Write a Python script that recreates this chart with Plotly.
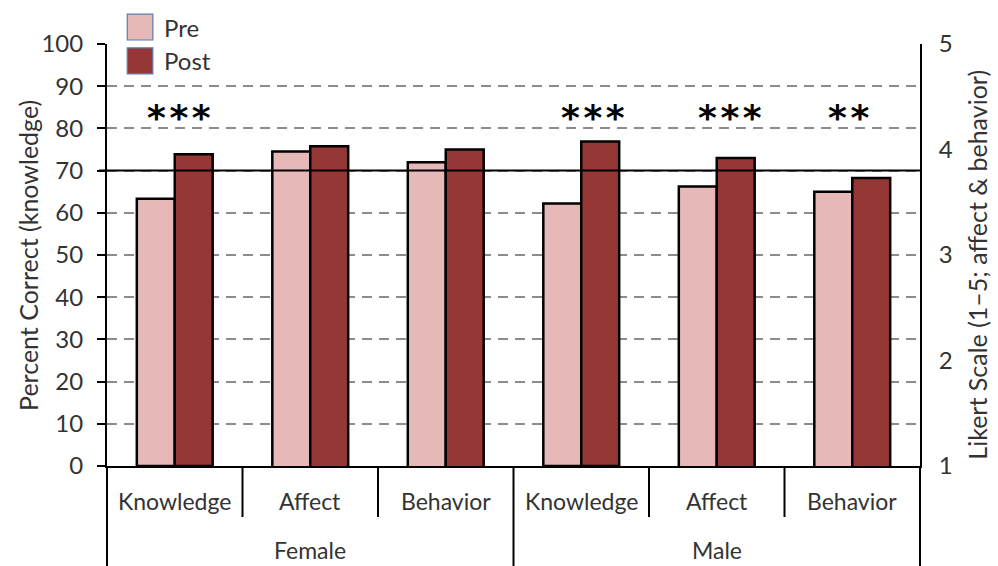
import plotly.graph_objects as go

# Survey outcomes by gender: knowledge in percent correct, affect/behavior on a 1-5 Likert scale
groups = ["Female", "Male"]
measures = ["Knowledge", "Affect", "Behavior"]
categories = [(g, m) for g in groups for m in measures]

knowledge_idx = [0, 3]
knowledge_pre = [63.3, 62.2]
knowledge_post = [73.9, 76.9]

likert_idx = [1, 2, 4, 5]
likert_pre = [3.98, 3.88, 3.65, 3.60]
likert_post = [4.03, 4.00, 3.92, 3.73]

sig_idx = [0, 3, 4, 5]
sig_labels = ["***", "***", "***", "**"]
sig_shift = [0.03, 0.09, 0.1, -0.03]

y_ticks = list(range(0, 101, 10))
y2_ticks = [1, 2, 3, 4, 5]
reference_line = 70

PRE_COLOR = "#E6B9B8"
POST_COLOR = "#953735"
TEXT = "#333333"
FONT = "Lato"

bar_w = 0.28
n_cat = len(categories)

fig = go.Figure()
bar_line = dict(color="black", width=2.5)
fig.add_trace(go.Bar(x=knowledge_idx, y=knowledge_pre, name="Pre", width=bar_w, offset=-bar_w,
                     marker=dict(color=PRE_COLOR, line=bar_line), showlegend=False))
fig.add_trace(go.Bar(x=knowledge_idx, y=knowledge_post, name="Post", width=bar_w, offset=0,
                     marker=dict(color=POST_COLOR, line=bar_line), showlegend=False))
fig.add_trace(go.Bar(x=likert_idx, y=likert_pre, name="Pre", width=bar_w, offset=-bar_w, yaxis="y2",
                     marker=dict(color=PRE_COLOR, line=bar_line), showlegend=False))
fig.add_trace(go.Bar(x=likert_idx, y=likert_post, name="Post", width=bar_w, offset=0, yaxis="y2",
                     marker=dict(color=POST_COLOR, line=bar_line), showlegend=False))

fig.update_layout(
    width=998, height=566,
    margin=dict(l=107, r=78, t=44, b=100),
    paper_bgcolor="white", plot_bgcolor="white",
    font=dict(family=FONT, size=24, color=TEXT),
    barmode="group",
    xaxis=dict(range=[-0.5, n_cat - 0.5], showticklabels=False, ticks="", showgrid=False,
               zeroline=False, showline=True, linecolor="black", linewidth=2),
    yaxis=dict(range=[0, 100], tickvals=y_ticks, showline=True, linecolor="black", linewidth=2,
               ticks="outside", ticklen=8, tickwidth=2, tickcolor="black", ticklabelstandoff=9,
               showgrid=True, gridcolor="#8c8c8c", gridwidth=2, griddash="10px,7px",
               zeroline=False, tickfont=dict(size=24, color=TEXT)),
    yaxis2=dict(range=[1, 5], tickvals=y2_ticks, overlaying="y", side="right", showline=True,
                linecolor="black", linewidth=2, ticks="", ticklabelstandoff=12, showgrid=False,
                zeroline=False, tickfont=dict(size=24, color=TEXT)),
)

shapes = []
annotations = []

# solid reference line at 70
shapes.append(dict(type="line", xref="paper", yref="y", x0=-0.01, x1=1, y0=reference_line,
                   y1=reference_line, line=dict(color="black", width=2), layer="above"))

# category dividers below the axis
plot_h = 422
for i in range(n_cat + 1):
    xp = i / n_cat
    full = i % len(measures) == 0
    depth = 100 if full else 51
    shapes.append(dict(type="line", xref="paper", yref="paper", x0=xp, x1=xp, y0=0,
                       y1=-depth / plot_h, line=dict(color="black", width=2)))

for i, (g, m) in enumerate(categories):
    annotations.append(dict(text=m, xref="x", yref="paper", x=i, y=-35 / plot_h, showarrow=False,
                            xanchor="center", yanchor="middle", font=dict(size=23, color=TEXT)))
for j, g in enumerate(groups):
    annotations.append(dict(text=g, xref="x", yref="paper", x=j * len(measures) + 1, y=-84 / plot_h,
                            showarrow=False, xanchor="center", yanchor="middle",
                            font=dict(size=23, color=TEXT)))

# significance markers, spaced with hair spaces
for i, lab, dx in zip(sig_idx, sig_labels, sig_shift):
    annotations.append(dict(text="<b>" + "\u200a".join(lab) + "</b>", xref="x", yref="y",
                            x=i + dx, y=82.5, showarrow=False, xanchor="center", yanchor="middle",
                            font=dict(family="DejaVu Sans", size=36, color="black")))

# axis titles
annotations.append(dict(text="Percent Correct (knowledge)", xref="paper", yref="paper",
                        x=-79 / 812.5, y=0.5, textangle=-90, showarrow=False,
                        xanchor="center", yanchor="middle", font=dict(size=25, color=TEXT)))
annotations.append(dict(text="Likert Scale (1–5; affect & behavior)", xref="paper", yref="paper",
                        x=870 / 812.5, y=0.476, textangle=-90, showarrow=False,
                        xanchor="center", yanchor="middle", font=dict(size=25, color=TEXT)))

# legend swatches
legend_items = [("Pre", PRE_COLOR, 1.0095, 1.071), ("Post", POST_COLOR, 0.929, 0.991)]
for name, color, y0, y1 in legend_items:
    shapes.append(dict(type="rect", xref="paper", yref="paper", x0=0.0249, x1=0.0564, y0=y0, y1=y1,
                       fillcolor=color, line=dict(color="#5B7DB1", width=1.2), layer="above"))
    annotations.append(dict(text=name, xref="paper", yref="paper", x=0.068, y=(y0 + y1) / 2,
                            showarrow=False, xanchor="left", yanchor="middle",
                            font=dict(size=24, color=TEXT)))

fig.update_layout(shapes=shapes, annotations=annotations)
fig.write_html("out.html")
